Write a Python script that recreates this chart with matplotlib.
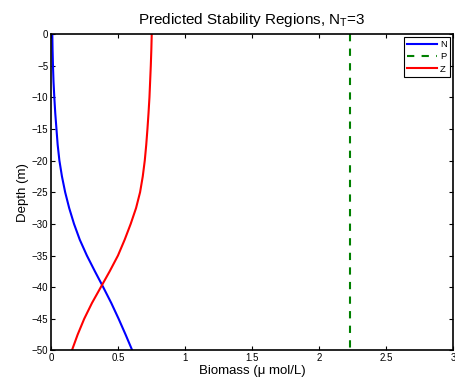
import matplotlib
matplotlib.use("Agg")
import matplotlib.pyplot as plt
from matplotlib.ticker import FuncFormatter

plt.rcParams['font.family'] = ['Liberation Sans', 'DejaVu Sans']

depth = [0, -2.5, -5, -7.5, -10, -12.5, -15, -17.5, -20, -22.5, -25,
         -27.5, -30, -32.5, -35, -37.5, -40, -42.5, -45, -47.5, -50]
N = [0.010, 0.012, 0.015, 0.019, 0.025, 0.032, 0.041, 0.050, 0.063, 0.082,
     0.106, 0.136, 0.172, 0.215, 0.268, 0.328, 0.390, 0.450, 0.505, 0.557,
     0.607]
Z = [0.752, 0.749, 0.745, 0.740, 0.735, 0.728, 0.720, 0.711, 0.700, 0.685,
     0.665, 0.635, 0.595, 0.550, 0.500, 0.438, 0.372, 0.306, 0.248, 0.199,
     0.156]
P_level = 2.23
P_depth = [0, -50]
xticks = [0, 0.5, 1, 1.5, 2, 2.5, 3]
yticks = list(range(0, -55, -5))

fig = plt.figure(figsize=(4.55, 3.86), dpi=100)
ax = fig.add_axes([0.112, 0.092, 0.8836, 0.820])

ax.plot(N, depth, color='#0000ff', lw=1.5, label='N')
ax.plot([P_level, P_level], P_depth, color='#008000', lw=1.5,
        ls=(0, (3.5, 3.5)), label='P')
ax.plot(Z, depth, color='#ff0000', lw=1.5, label='Z')

ax.set_xlim(0, 3)
ax.set_ylim(-50, 0)
ax.set_xticks(xticks)
ax.set_yticks(yticks)
ax.xaxis.set_major_formatter(FuncFormatter(lambda v, p: f'{v:g}'))
ax.tick_params(direction='in', top=True, right=True, labelsize=7,
               length=3, width=0.8, pad=2)
for s in ax.spines.values():
    s.set_linewidth(1.2)

ax.set_title(r'Predicted Stability Regions, N$_\mathregular{T}$=3',
             fontsize=11, pad=7)
ax.set_xlabel('Biomass (\u03bc mol/L)', fontsize=9.5, labelpad=1)
ax.set_ylabel('Depth (m)', fontsize=9.5, labelpad=2)

leg = ax.legend(loc='upper right', fontsize=6.8, handlelength=3.2,
                handletextpad=0.3, borderpad=0.35, labelspacing=0.35,
                fancybox=False, framealpha=1, edgecolor='black',
                borderaxespad=0.3)
leg.get_frame().set_linewidth(0.8)

fig.savefig('out.png', dpi=100)
